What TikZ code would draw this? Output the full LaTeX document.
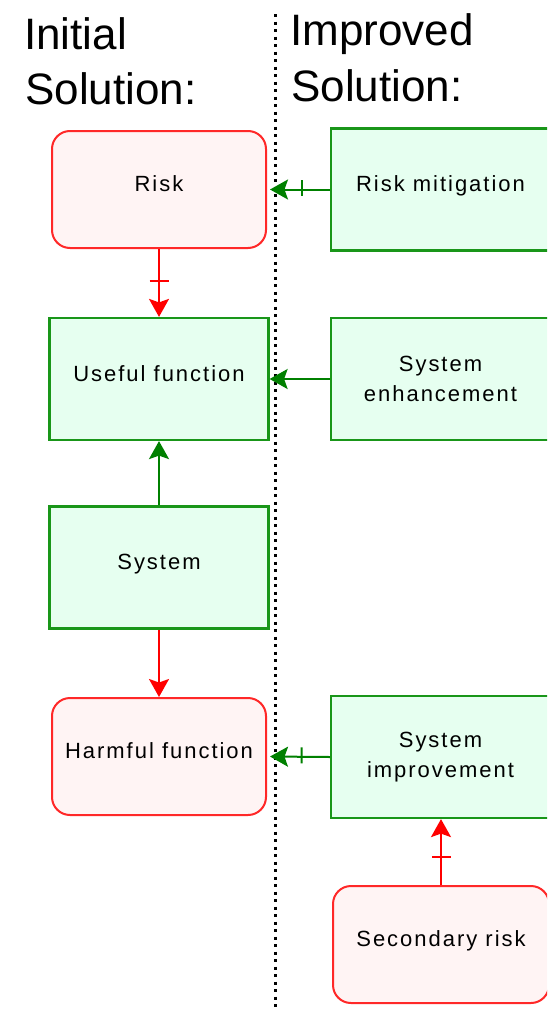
\documentclass[tikz,border=0pt]{standalone}
\usepackage{fontspec}
\setmainfont{Liberation Sans}
\newfontfamily\boxfont[LetterSpace=9]{Liberation Sans}
\usetikzlibrary{arrows.meta,decorations.markings}
\definecolor{boxgreen}{RGB}{25,150,25}
\definecolor{fillgreen}{RGB}{230,255,240}
\definecolor{boxred}{RGB}{255,40,40}
\definecolor{fillpink}{RGB}{255,244,244}
\definecolor{arrowgreen}{RGB}{0,128,0}
\definecolor{arrowred}{RGB}{255,0,0}
\begin{document}
\begin{tikzpicture}[x=1pt,y=-1pt,
  lbl/.style={font=\boxfont\fontsize{22}{30}\selectfont, text=black},
  oneline/.style={text depth=11pt},
  hdr/.style={font=\fontsize{44}{55}\selectfont, inner sep=0, anchor=base west},
  goodbox/.style={lbl, draw=boxgreen, fill=fillgreen, line width=2.2pt,
    minimum width=219pt, minimum height=122pt, align=center, inner sep=0},
  badbox/.style={lbl, draw=boxred, fill=fillpink, line width=2pt,
    rounded corners=18pt, minimum width=214pt, minimum height=117pt,
    align=center, inner sep=0},
  conn/.style={line width=2pt, -{Stealth[length=18pt,width=20pt,inset=3.5pt]}},
  redarrow/.style={conn, draw=arrowred, fill=arrowred},
  greenarrow/.style={conn, draw=arrowgreen, fill=arrowgreen},
  tickat/.style={decoration={markings, mark=at position #1 with
    {\draw[line width=2pt, -] (0,-9.5pt) -- (0,9.5pt);}}, postaction=decorate},
  divider/.style={line width=3.4pt, dash pattern=on 3.4pt off 4.1pt, black}]
\useasboundingbox (0,0) rectangle (547,1009);
\clip (0,0) rectangle (547,1009);
\fill[white] (0,0) rectangle (547,1009);

% column headings
\node[hdr] (hinit1) at (24,49) {Initial};
\node[hdr] (hinit2) at (25,104.5) {Solution:};
\node[hdr] (himpr1) at (290,45) {Improved};
\node[hdr] (himpr2) at (291,101) {Solution:};

% divider between the two solutions
\coordinate (dtop) at (275.7,14);
\coordinate (dbot) at (275.7,1009);
\draw[divider] (dtop) -- (dbot);

% initial solution
\node[badbox, oneline] (risk) at (159,189.5) {Risk};
\node[goodbox, oneline] (useful) at (159,379) {Useful function};
\node[goodbox, oneline] (system) at (159,567.5) {System};
\node[badbox, oneline] (harmful) at (159,756.5) {Harmful function};

% improved solution
\node[goodbox, oneline] (mitig) at (440.5,189.5) {Risk mitigation};
\node[goodbox] (enhance) at (440.5,379) {System\\enhancement};
\node[goodbox] (improve) at (440.5,757) {System\\improvement};
\node[badbox, oneline, minimum width=216pt] (secrisk) at (441,944.5) {Secondary risk};

% connectors
\draw[redarrow, tickat=0.47] (risk.south) -- (useful.north);
\draw[greenarrow] (system.north) -- (useful.south);
\draw[redarrow] (system.south) -- (harmful.north);
\draw[greenarrow, tickat=0.45, shorten >=3pt] (mitig.west) -- (risk.east);
\draw[greenarrow] (enhance.west) -- (useful.east);
\draw[greenarrow, tickat=0.45, shorten >=3pt] (improve.west) -- (harmful.east);
\draw[redarrow, tickat=0.43] (secrisk.north) -- (secrisk.north |- improve.south);
\end{tikzpicture}
\end{document}
